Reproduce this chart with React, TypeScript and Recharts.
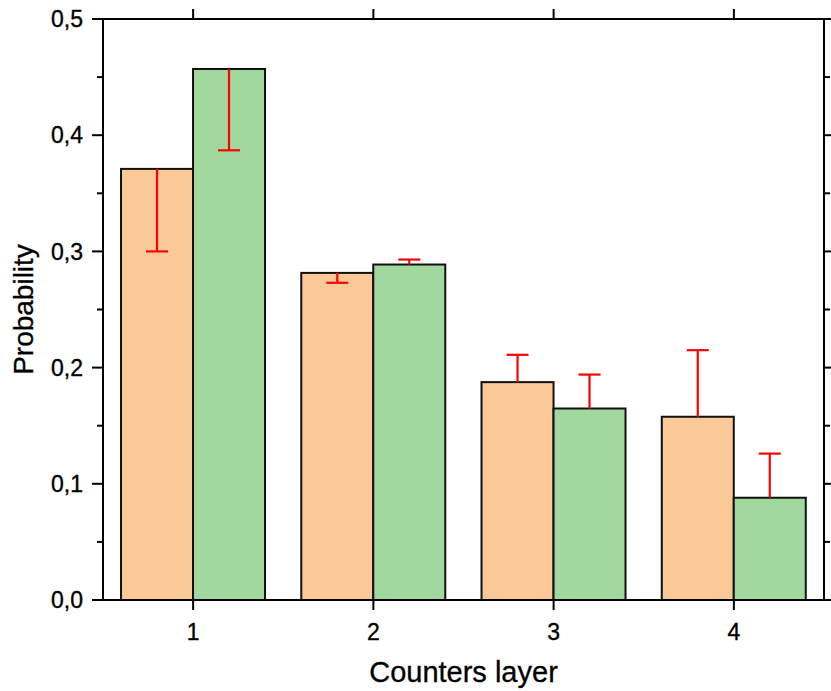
import { BarChart, Bar, XAxis, YAxis } from 'recharts';

// Counters layer vs probability, two series with one-sided error bars
const layers = ['1', '2', '3', '4'];
const seriesA = [0.371, 0.2815, 0.1875, 0.1577];
const seriesAErrEnd = [0.3, 0.273, 0.211, 0.215];
const seriesB = [0.457, 0.2887, 0.1648, 0.088];
const seriesBErrEnd = [0.387, 0.293, 0.194, 0.126];
const yTicks = [0, 0.05, 0.1, 0.15, 0.2, 0.25, 0.3, 0.35, 0.4, 0.45, 0.5];

const data = layers.map((layer, i) => ({
  layer,
  a: seriesA[i],
  aErr: seriesAErrEnd[i],
  b: seriesB[i],
  bErr: seriesBErrEnd[i],
}));

const FONT = '"Liberation Sans", Arial, Helvetica, sans-serif';
const ORANGE = '#FBC897';
const GREEN = '#A0D89E';
const PLOT_TOP = 19;
const PLOT_RIGHT = 824;

function makeShape(fill: string, key: string, errKey: string) {
  return (props: any) => {
    const { x, y, width, height, payload } = props;
    const v = payload[key];
    const pxPerUnit = v ? height / v : 0;
    const errY = y + height - payload[errKey] * pxPerUnit;
    const cx = x + width / 2;
    return (
      <g>
        <rect x={x} y={y} width={width} height={height} fill={fill} stroke="#111" strokeWidth={2} />
        <line x1={cx} y1={y} x2={cx} y2={errY} stroke="#FF0000" strokeWidth={2.2} />
        <line x1={cx - 11} y1={errY} x2={cx + 11} y2={errY} stroke="#FF0000" strokeWidth={2.2} />
      </g>
    );
  };
}

// left ticks + labels, mirrored (outward) ticks on the right frame edge,
// plus the top and right sides of the frame
function LeftTick(props: any) {
  const { x, y, index, payload } = props;
  const major = index % 2 === 0;
  const len = major ? 11 : 6;
  return (
    <g>
      <line x1={x} y1={y} x2={x - len} y2={y} stroke="#000" strokeWidth={2} />
      <line x1={PLOT_RIGHT} y1={y} x2={PLOT_RIGHT + len} y2={y} stroke="#000" strokeWidth={2} />
      {index === yTicks.length - 1 && (
        <line x1={x - 1} y1={y} x2={PLOT_RIGHT + 1} y2={y} stroke="#000" strokeWidth={2} />
      )}
      {index === 0 && <line x1={PLOT_RIGHT} y1={y} x2={PLOT_RIGHT} y2={PLOT_TOP} stroke="#000" strokeWidth={2} />}
      {major && (
        <text
          x={x - 20}
          y={y}
          dy="0.36em"
          textAnchor="end"
          fontSize={23}
          fontFamily={FONT}
          fill="#000"
          stroke="#000"
          strokeWidth={0.35}
        >
          {payload.value.toFixed(1).replace('.', ',')}
        </text>
      )}
    </g>
  );
}

// bottom ticks + labels, mirrored ticks on the top frame edge
function BottomTick(props: any) {
  const { x, y, payload } = props;
  return (
    <g>
      <line x1={x} y1={y} x2={x} y2={y + 10} stroke="#000" strokeWidth={2} />
      <line x1={x} y1={PLOT_TOP} x2={x} y2={PLOT_TOP - 10} stroke="#000" strokeWidth={2} />
      <text
        x={x}
        y={640}
        textAnchor="middle"
        fontSize={23}
        fontFamily={FONT}
        fill="#000"
        stroke="#000"
        strokeWidth={0.35}
      >
        {payload.value}
      </text>
    </g>
  );
}

export default function App() {
  return (
    <div style={{ position: 'absolute', left: 0, top: 0, background: '#fff' }}>
      <BarChart
        width={831}
        height={691}
        data={data}
        margin={{ top: PLOT_TOP, right: 831 - PLOT_RIGHT, left: 0, bottom: 0 }}
        barCategoryGap="10%"
        barGap={0}
      >
        <XAxis
          dataKey="layer"
          height={91}
          tickSize={0}
          tickMargin={0}
          axisLine={{ stroke: '#000', strokeWidth: 2 }}
          tickLine={false}
          tick={<BottomTick />}
          label={{
            content: (p: any) => {
              const vb = p.viewBox;
              return (
                <text
                  x={vb.x + vb.width / 2}
                  y={682}
                  textAnchor="middle"
                  fontSize={29}
                  fontFamily={FONT}
                  fill="#000"
                  stroke="#000"
                  strokeWidth={0.3}
                >
                  Counters layer
                </text>
              );
            },
          }}
        />
        <YAxis
          type="number"
          domain={[0, 0.5]}
          ticks={yTicks}
          interval={0}
          width={103}
          tickSize={0}
          tickMargin={0}
          axisLine={{ stroke: '#000', strokeWidth: 2 }}
          tickLine={false}
          tick={<LeftTick />}
          label={{
            content: (p: any) => {
              const vb = p.viewBox;
              const cy = vb.y + vb.height / 2;
              return (
                <text
                  x={33}
                  y={cy}
                  transform={`rotate(-90, 33, ${cy})`}
                  textAnchor="middle"
                  fontSize={28}
                  fontFamily={FONT}
                  fill="#000"
                  stroke="#000"
                  strokeWidth={0.3}
                >
                  Probability
                </text>
              );
            },
          }}
        />
        <Bar dataKey="a" fill={ORANGE} isAnimationActive={false} shape={makeShape(ORANGE, 'a', 'aErr')} />
        <Bar dataKey="b" fill={GREEN} isAnimationActive={false} shape={makeShape(GREEN, 'b', 'bErr')} />
      </BarChart>
    </div>
  );
}
